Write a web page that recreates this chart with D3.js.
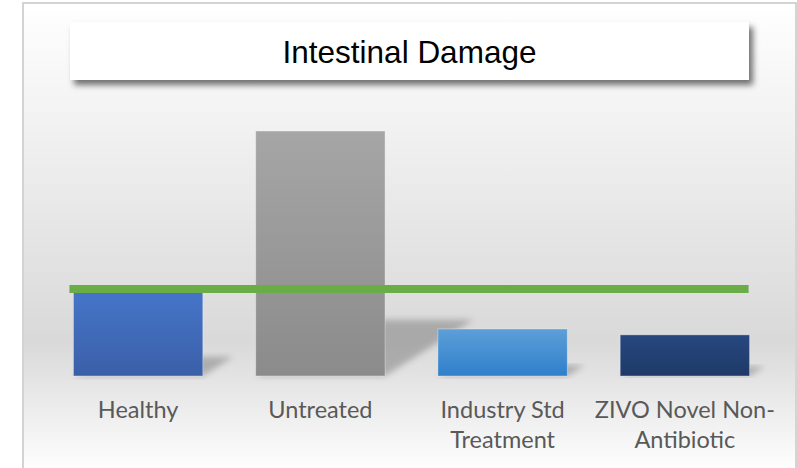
<!DOCTYPE html>
<html lang="en">
<head>
    <meta charset="utf-8">
    <title>Intestinal Damage</title>
    <script src="https://d3js.org/d3.v7.min.js"></script>
    <style>
        body { margin: 0; background: #fff; }
        svg { display: block; }
    </style>
</head>
<body>
<div id="chart"></div>
<script>
/* global d3 */

// chart data
var categories = ["Healthy", "Untreated", "Industry Std Treatment", "ZIVO Novel Non-Antibiotic"];
var labelLines = [["Healthy"], ["Untreated"], ["Industry Std", "Treatment"], ["ZIVO Novel Non-", "Antibiotic"]];
var damage = [34.3, 100, 19.2, 16.8];
var healthyLevel = 35.5;
var barColors = [
    ["#4675c8", "#3a5fa8"],
    ["#a6a6a6", "#8b8b8b"],
    ["#5d9fd8", "#2f7fcb"],
    ["#27477f", "#1f3a69"]
];

var width = 797,
    height = 468;

var svg = d3.select("#chart").append("svg")
    .attr("width", width)
    .attr("height", height);

var defs = svg.append("defs");

var bg = defs.append("linearGradient")
    .attr("id", "bgGrad")
    .attr("x1", 0).attr("y1", 0).attr("x2", 0).attr("y2", 1);
bg.append("stop").attr("offset", "0%").attr("stop-color", "#ffffff");
bg.append("stop").attr("offset", "25%").attr("stop-color", "#f2f2f2");
bg.append("stop").attr("offset", "72%").attr("stop-color", "#d9d9d9");
bg.append("stop").attr("offset", "100%").attr("stop-color", "#ffffff");

barColors.forEach(function(c, i) {
    var g = defs.append("linearGradient")
        .attr("id", "bar" + i)
        .attr("x1", 0).attr("y1", 0).attr("x2", 0).attr("y2", 1);
    g.append("stop").attr("offset", "0%").attr("stop-color", c[0]);
    g.append("stop").attr("offset", "100%").attr("stop-color", c[1]);
});

var blur = defs.append("filter").attr("id", "blur")
    .attr("x", "-20%").attr("y", "-20%").attr("width", "140%").attr("height", "140%");
blur.append("feGaussianBlur").attr("stdDeviation", 3);

var drop = defs.append("filter").attr("id", "drop")
    .attr("x", "-5%").attr("y", "-20%").attr("width", "115%").attr("height", "160%");
drop.append("feDropShadow")
    .attr("dx", 4).attr("dy", 5)
    .attr("stdDeviation", 3)
    .attr("flood-color", "#000")
    .attr("flood-opacity", 0.55);

// chart area
svg.append("rect")
    .attr("x", 23).attr("y", 3)
    .attr("width", 773).attr("height", 470)
    .attr("fill", "url(#bgGrad)")
    .attr("stroke", "#d4d4d4")
    .attr("stroke-width", 2);

// title box
svg.append("rect")
    .attr("x", 70).attr("y", 22)
    .attr("width", 679).attr("height", 58)
    .attr("fill", "#fff")
    .attr("filter", "url(#drop)");

svg.append("text")
    .attr("x", 409.5).attr("y", 63)
    .attr("text-anchor", "middle")
    .style("font-family", "'Liberation Sans', Arial, sans-serif")
    .style("font-size", "31.5px")
    .attr("fill", "#000")
    .text("Intestinal Damage");

var x = d3.scaleBand()
    .domain(categories)
    .range([47, 776])
    .paddingInner(0.29)
    .paddingOuter(0.145);

var y = d3.scaleLinear()
    .domain([0, 100])
    .range([376, 131]);

var rows = categories.map(function(c, i) {
    return {cat: c, value: damage[i], i: i};
});

// perspective shadows
svg.append("g").selectAll("path")
    .data(rows)
    .join("path")
    .attr("d", function(d) {
        var x0 = x(d.cat), x1 = x0 + x.bandwidth(),
            b = y(0), h = y(0) - y(d.value),
            dx = h * 0.36, dy = h * 0.23;
        return "M" + x0 + "," + b + "L" + x1 + "," + b +
            "L" + (x1 + dx) + "," + (b - dy) + "L" + (x0 + dx) + "," + (b - dy) + "Z";
    })
    .attr("fill", "#7a7a7a")
    .attr("opacity", 0.5)
    .attr("filter", "url(#blur)");

svg.append("g").selectAll("rect")
    .data(rows)
    .join("rect")
    .attr("x", function(d) { return x(d.cat); })
    .attr("y", function(d) { return y(d.value); })
    .attr("width", x.bandwidth())
    .attr("height", function(d) { return y(0) - y(d.value); })
    .attr("fill", function(d) { return "url(#bar" + d.i + ")"; })
    .attr("stroke", "rgba(255,255,255,0.35)")
    .attr("stroke-width", 1);

// healthy reference line
svg.append("line")
    .attr("x1", x(categories[0]) - 4)
    .attr("x2", x(categories[3]) + x.bandwidth() - 1)
    .attr("y1", y(healthyLevel))
    .attr("y2", y(healthyLevel))
    .attr("stroke", "#6aac46")
    .attr("stroke-width", 8);

// category labels
var labels = svg.append("g").selectAll("text")
    .data(rows)
    .join("text")
    .attr("text-anchor", "middle")
    .style("font-family", "Lato, 'Open Sans', sans-serif")
    .style("font-size", "23.5px")
    .attr("fill", "#595959");

labels.selectAll("tspan")
    .data(function(d) {
        return labelLines[d.i].map(function(t, k) { return {t: t, k: k, cat: d.cat}; });
    })
    .join("tspan")
    .attr("x", function(d) { return x(d.cat) + x.bandwidth() / 2; })
    .attr("y", function(d) { return 418 + d.k * 30; })
    .text(function(d) { return d.t; });
</script>
</body>
</html>
